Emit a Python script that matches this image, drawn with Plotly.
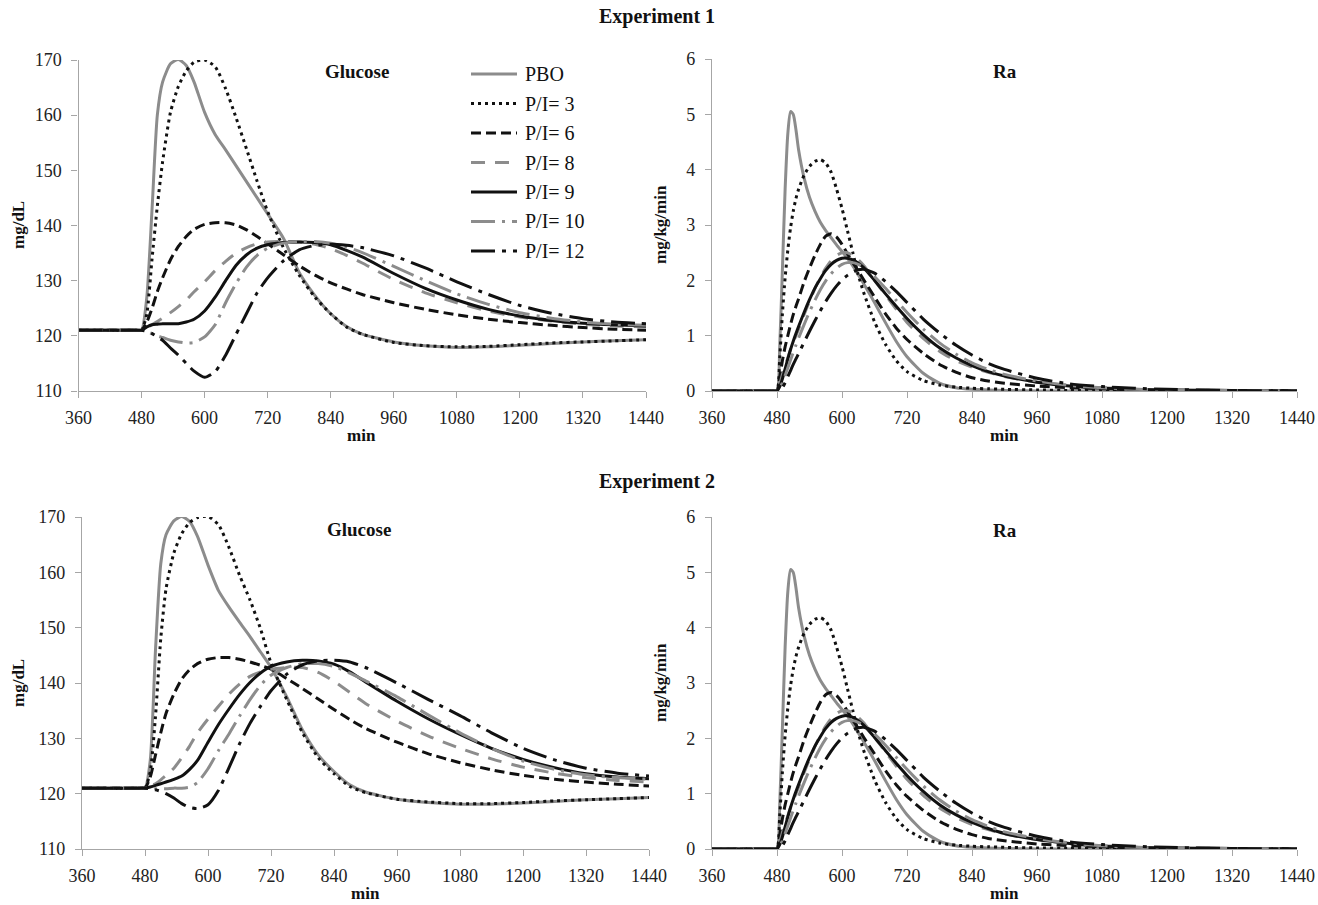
import plotly.graph_objects as go

W, H = 1318, 905
FONT = "'Liberation Serif', 'Times New Roman', Times, serif"
GRAY = "#8c8c8c"
BLACK = "#111111"
AXIS = "#a6a6a6"

SERIES = ["PBO", "P/I= 3", "P/I= 6", "P/I= 8", "P/I= 9", "P/I= 10", "P/I= 12"]

# ---------------- Glucose time grid (min) ----------------
T_GLU = [360, 470, 480,
         490, 500, 510, 520,
         535, 550, 565, 580,
         600, 620, 640, 660, 680, 700, 720,
         750, 780, 810, 840, 870, 900,
         960, 1020, 1080, 1140, 1200, 1260, 1320, 1380, 1440]

# Experiment 1 glucose (mg/dL)
glu1_pbo = [121, 121, 121, 127, 143, 160, 166, 169.3, 170.1, 169, 166,
            160.5, 156.5, 153.7, 150.8, 147.9, 145, 142.1,
            137.7, 131.5, 127.3, 124, 121.7, 120.3,
            118.9, 118.2, 117.9, 118, 118.3, 118.6, 118.9, 119.1, 119.3]
glu1_p3 = [121, 121, 121, 124, 134, 143.5, 151.5, 160.5, 165.2, 168, 169.6,
           170, 168.8, 164.8, 159.5, 153.8, 148, 142.5,
           136, 131, 127, 124, 121.6, 120.3,
           118.8, 118.2, 118, 118.1, 118.4, 118.7, 118.9, 119.1, 119.3]
glu1_p6 = [121, 121, 121, 122.5, 125, 128, 130.5, 133.8, 136.2, 138, 139.3,
           140.2, 140.5, 140.5, 140.1, 139.2, 138, 136.7,
           134.7, 132.7, 131, 129.6, 128.5, 127.5,
           126, 124.8, 123.8, 123, 122.4, 121.9, 121.5, 121.2, 121]
glu1_p8 = [121, 121, 121, 121.5, 122, 122.6, 123.2, 124.2, 125.3, 126.5, 128,
           129.8, 131.8, 133.5, 135, 136, 136.7, 137,
           137.1, 137, 136.6, 135.8, 134.6, 133.2,
           130.2, 127.8, 126, 124.5, 123.4, 122.7, 122.1, 121.8, 121.6]
glu1_p9 = [121, 121, 121, 121.6, 122, 122.1, 122.2, 122.2, 122.2, 122.5, 123,
           124.5, 127, 130, 132.8, 134.7, 135.9, 136.5,
           136.9, 137, 136.9, 136.5, 135.5, 134.3,
           131.3, 128.6, 126.5, 124.8, 123.6, 122.8, 122.3, 122, 121.8]
glu1_p10 = [121, 121, 121, 120.8, 120.4, 120, 119.7, 119.2, 118.9, 118.7, 118.8,
            119.8, 122, 126, 129.5, 132.5, 134.6, 135.9,
            136.8, 137.1, 137.1, 136.8, 136.1, 135.1,
            132.6, 130, 127.6, 125.7, 124.2, 123.2, 122.5, 122.1, 121.9]
glu1_p12 = [121, 121, 121, 120.8, 120.4, 119.8, 119.2, 117.8, 116.5, 115, 113.6,
            112.5, 113.5, 116.5, 120.3, 124.1, 127.8, 130.5,
            133.6, 135.6, 136.4, 136.6, 136.4, 136,
            134.5, 132.3, 129.8, 127.5, 125.5, 124.1, 123.1, 122.5, 122.2]

# Experiment 2 glucose (mg/dL)
glu2_pbo = [121, 121, 121, 126, 146, 161.5, 166.8, 169.3, 170.1, 169.2, 166.5,
            161.3, 156.7, 153.7, 151, 148.4, 145.6, 142.8,
            137.5, 131.5, 127, 124, 121.6, 120.3,
            119, 118.4, 118.1, 118.1, 118.3, 118.6, 118.9, 119.1, 119.3]
glu2_p3 = [121, 121, 121, 124, 134, 148, 157, 163.5, 167, 169, 169.9,
           170.1, 168.6, 164.5, 159.5, 155, 149.8, 143.6,
           137, 131, 126.5, 123.6, 121.3, 120.2,
           119, 118.5, 118.2, 118.2, 118.4, 118.7, 118.9, 119.1, 119.3]
glu2_p6 = [121, 121, 121, 123, 127, 131, 134.5, 138, 140.7, 142.4, 143.5,
           144.3, 144.6, 144.6, 144.3, 143.8, 143.2, 142.5,
           140.8, 139, 137.1, 135.2, 133.4, 131.8,
           129.3, 127.2, 125.6, 124.3, 123.3, 122.6, 122.1, 121.7, 121.4]
glu2_p8 = [121, 121, 121, 121.4, 121.8, 122.5, 123.3, 124.6, 126.5, 128.6, 131,
           133.5, 135.8, 138, 139.8, 141.2, 142, 142.5,
           142.8, 142.8, 141.9, 140.3, 138.3, 136.3,
           133.1, 130.4, 128.2, 126.3, 124.8, 123.7, 122.9, 122.4, 122.1]
glu2_p9 = [121, 121, 121, 121.2, 121.5, 121.8, 122.1, 122.6, 123.2, 124.4, 126,
           129.3, 132.5, 135.3, 137.9, 140.1, 141.8, 143,
           143.8, 144.1, 144, 143.4, 142, 140.2,
           136.7, 133.5, 130.7, 128.2, 126.2, 124.7, 123.6, 123, 122.7]
glu2_p10 = [121, 121, 121, 120.9, 120.9, 120.9, 120.9, 121, 121, 121.2, 122,
            124.5, 127.8, 130.8, 134, 137, 139.6, 141.4,
            142.8, 143.5, 143.5, 143, 141.8, 140.4,
            137.5, 134.2, 131, 128.2, 125.9, 124.4, 123.4, 122.9, 122.6]
glu2_p12 = [121, 121, 121, 120.9, 120.7, 120.4, 120, 119.2, 118.2, 117.5, 117.3,
            118, 120.6, 124.7, 129, 132.7, 135.8, 138.6,
            141.6, 143.3, 144, 144.1, 143.8, 142.8,
            140, 137, 134.1, 131, 128.2, 126.1, 124.6, 123.7, 123.2]

# ---------------- Ra time grid (min) ----------------
T_RA = [360, 420, 470, 480,
        485, 490, 495, 500, 505, 510, 515, 520,
        530, 540, 550, 560, 570, 580, 590, 600, 610, 620, 630, 640,
        660, 680, 700, 720, 750, 780, 810, 840, 870, 900,
        960, 1020, 1080, 1140, 1200, 1320, 1440]

# Experiment 1 Ra (mg/kg/min)
ra1_pbo = [0, 0, 0, 0, 0.8, 2.2, 3.65, 4.65, 5.05, 5.0, 4.72, 4.35,
           3.85, 3.5, 3.25, 3.05, 2.9, 2.77, 2.64, 2.52, 2.4, 2.26, 2.1, 1.94,
           1.6, 1.24, 0.9, 0.62, 0.32, 0.14, 0.06, 0.03, 0.02, 0.01,
           0, 0, 0, 0, 0, 0, 0]
ra1_p3 = [0, 0, 0, 0, 0.6, 1.4, 2.05, 2.55, 2.95, 3.25, 3.48, 3.65,
          3.9, 4.06, 4.15, 4.18, 4.12, 3.95, 3.65, 3.3, 2.9, 2.5, 2.1, 1.78,
          1.25, 0.85, 0.55, 0.35, 0.19, 0.11, 0.07, 0.05, 0.04, 0.03,
          0.02, 0.01, 0.01, 0, 0, 0, 0]
ra1_p6 = [0, 0, 0, 0, 0.25, 0.55, 0.8, 1.0, 1.2, 1.38, 1.53, 1.67,
          1.97, 2.22, 2.45, 2.65, 2.8, 2.84, 2.78, 2.65, 2.48, 2.32, 2.17, 2.01,
          1.7, 1.4, 1.14, 0.93, 0.68, 0.48, 0.34, 0.24, 0.18, 0.14,
          0.09, 0.06, 0.04, 0.02, 0.01, 0.01, 0]
ra1_p8 = [0, 0, 0, 0, 0.12, 0.3, 0.45, 0.6, 0.75, 0.88, 1.0, 1.12,
          1.38, 1.62, 1.85, 2.05, 2.22, 2.36, 2.45, 2.5, 2.5, 2.45, 2.37, 2.27,
          2.0, 1.74, 1.48, 1.24, 0.95, 0.72, 0.55, 0.43, 0.34, 0.26,
          0.16, 0.1, 0.06, 0.03, 0.02, 0.01, 0]
ra1_p9 = [0, 0, 0, 0, 0.08, 0.22, 0.4, 0.58, 0.75, 0.9, 1.04, 1.17,
          1.42, 1.65, 1.86, 2.03, 2.18, 2.29, 2.36, 2.4, 2.4, 2.37, 2.31, 2.23,
          2.0, 1.76, 1.53, 1.31, 1.02, 0.78, 0.6, 0.46, 0.35, 0.27,
          0.16, 0.09, 0.05, 0.03, 0.02, 0.01, 0]
ra1_p10 = [0, 0, 0, 0, 0.05, 0.15, 0.28, 0.42, 0.56, 0.7, 0.83, 0.96,
           1.2, 1.43, 1.64, 1.83, 1.99, 2.12, 2.22, 2.29, 2.32, 2.32, 2.29, 2.24,
           2.07, 1.86, 1.64, 1.42, 1.12, 0.87, 0.67, 0.51, 0.39, 0.3,
           0.18, 0.1, 0.06, 0.03, 0.02, 0.01, 0]
ra1_p12 = [0, 0, 0, 0, 0.02, 0.06, 0.15, 0.26, 0.37, 0.48, 0.58, 0.68,
           0.88, 1.08, 1.27, 1.45, 1.62, 1.77, 1.9, 2.01, 2.09, 2.15, 2.19, 2.2,
           2.13, 1.98, 1.8, 1.6, 1.3, 1.05, 0.83, 0.65, 0.5, 0.39,
           0.23, 0.13, 0.08, 0.05, 0.03, 0.01, 0]

# Experiment 2 Ra (mg/kg/min)
ra2_pbo = [0, 0, 0, 0, 0.8, 2.2, 3.65, 4.65, 5.05, 5.0, 4.72, 4.35,
           3.85, 3.5, 3.25, 3.05, 2.9, 2.77, 2.64, 2.52, 2.4, 2.26, 2.1, 1.94,
           1.6, 1.24, 0.9, 0.62, 0.32, 0.14, 0.06, 0.03, 0.02, 0.01,
           0, 0, 0, 0, 0, 0, 0]
ra2_p3 = [0, 0, 0, 0, 0.6, 1.4, 2.05, 2.55, 2.95, 3.25, 3.48, 3.65,
          3.9, 4.06, 4.15, 4.18, 4.12, 3.95, 3.65, 3.3, 2.9, 2.5, 2.1, 1.78,
          1.25, 0.85, 0.55, 0.35, 0.19, 0.11, 0.07, 0.05, 0.04, 0.03,
          0.02, 0.01, 0.01, 0, 0, 0, 0]
ra2_p6 = [0, 0, 0, 0, 0.25, 0.55, 0.8, 1.0, 1.2, 1.38, 1.53, 1.67,
          1.97, 2.22, 2.45, 2.65, 2.79, 2.83, 2.77, 2.65, 2.49, 2.33, 2.18, 2.02,
          1.72, 1.42, 1.16, 0.95, 0.7, 0.5, 0.36, 0.26, 0.19, 0.15,
          0.09, 0.06, 0.04, 0.02, 0.01, 0.01, 0]
ra2_p8 = [0, 0, 0, 0, 0.12, 0.3, 0.45, 0.6, 0.75, 0.88, 1.0, 1.12,
          1.38, 1.62, 1.85, 2.05, 2.22, 2.36, 2.45, 2.5, 2.5, 2.46, 2.38, 2.28,
          2.02, 1.76, 1.5, 1.26, 0.97, 0.74, 0.57, 0.44, 0.35, 0.27,
          0.17, 0.1, 0.06, 0.03, 0.02, 0.01, 0]
ra2_p9 = [0, 0, 0, 0, 0.08, 0.22, 0.4, 0.58, 0.75, 0.9, 1.04, 1.17,
          1.42, 1.65, 1.86, 2.03, 2.18, 2.29, 2.36, 2.4, 2.41, 2.38, 2.32, 2.24,
          2.02, 1.78, 1.55, 1.33, 1.04, 0.8, 0.62, 0.48, 0.37, 0.28,
          0.17, 0.1, 0.05, 0.03, 0.02, 0.01, 0]
ra2_p10 = [0, 0, 0, 0, 0.05, 0.15, 0.28, 0.42, 0.56, 0.7, 0.83, 0.96,
           1.2, 1.43, 1.64, 1.83, 1.99, 2.12, 2.22, 2.29, 2.32, 2.32, 2.29, 2.24,
           2.08, 1.88, 1.66, 1.44, 1.14, 0.89, 0.69, 0.53, 0.41, 0.31,
           0.19, 0.11, 0.06, 0.03, 0.02, 0.01, 0]
ra2_p12 = [0, 0, 0, 0, 0.02, 0.06, 0.15, 0.26, 0.37, 0.48, 0.58, 0.68,
           0.88, 1.08, 1.27, 1.45, 1.62, 1.77, 1.9, 2.01, 2.09, 2.15, 2.19, 2.2,
           2.13, 1.98, 1.8, 1.6, 1.3, 1.05, 0.83, 0.65, 0.5, 0.39,
           0.23, 0.13, 0.08, 0.05, 0.03, 0.01, 0]

X_TICKS = [360, 480, 600, 720, 840, 960, 1080, 1200, 1320, 1440]
GLU_TICKS = [110, 120, 130, 140, 150, 160, 170]
RA_TICKS = [0, 1, 2, 3, 4, 5, 6]

STYLE = {
    "PBO":     (GRAY, "solid"),
    "P/I= 3":  (BLACK, "3px,4px"),
    "P/I= 6":  (BLACK, "10px,5px"),
    "P/I= 8":  (GRAY, "14px,10px"),
    "P/I= 9":  (BLACK, "solid"),
    "P/I= 10": (GRAY, "24px,7px,3px,7px"),
    "P/I= 12": (BLACK, "24px,7px,4px,7px"),
}

panels = [
    ("x", "y", T_GLU, [glu1_pbo, glu1_p3, glu1_p6, glu1_p8, glu1_p9, glu1_p10, glu1_p12]),
    ("x2", "y2", T_RA, [ra1_pbo, ra1_p3, ra1_p6, ra1_p8, ra1_p9, ra1_p10, ra1_p12]),
    ("x3", "y3", T_GLU, [glu2_pbo, glu2_p3, glu2_p6, glu2_p8, glu2_p9, glu2_p10, glu2_p12]),
    ("x4", "y4", T_RA, [ra2_pbo, ra2_p3, ra2_p6, ra2_p8, ra2_p9, ra2_p10, ra2_p12]),
]


def px(x):
    return x / W


def py(y):
    return 1 - y / H


fig = go.Figure()
for xa, ya, tt, vals in panels:
    for name, v in zip(SERIES, vals):
        col, dash = STYLE[name]
        fig.add_trace(go.Scatter(
            x=tt, y=v, mode="lines", name=name, xaxis=xa, yaxis=ya,
            line=dict(color=col, width=3, dash=dash, shape="spline", smoothing=0.6),
            showlegend=False, hoverinfo="skip"))

tickfont = dict(family=FONT, size=18, color="#222222")
common = dict(showline=True, linecolor=AXIS, linewidth=1.3, ticks="outside", ticklen=6,
              tickcolor=AXIS, tickwidth=1.3, showgrid=False, zeroline=False,
              tickfont=tickfont, automargin=False, fixedrange=True)

dom = {
    "TL": ([px(78.5), px(646)], [py(391), py(60)]),
    "TR": ([px(712), px(1297)], [py(391), py(59)]),
    "BL": ([px(82), px(649)], [py(849), py(517)]),
    "BR": ([px(712), px(1297)], [py(849), py(517)]),
}

layout_axes = {}
for i, (key, yr, yt) in enumerate([("TL", [110, 170], GLU_TICKS), ("TR", [0, 6], RA_TICKS),
                                    ("BL", [110, 170], GLU_TICKS), ("BR", [0, 6], RA_TICKS)]):
    suf = "" if i == 0 else str(i + 1)
    xd, yd = dom[key]
    layout_axes["xaxis" + suf] = dict(common, domain=xd, range=[360, 1440], tickvals=X_TICKS,
                                      anchor="y" + suf, ticklabelstandoff=4)
    layout_axes["yaxis" + suf] = dict(common, domain=yd, range=yr, tickvals=yt,
                                      anchor="x" + suf, ticklabelstandoff=6)

fig.update_layout(**layout_axes)

ann = []


def text(x, y, s, size, bold=True, angle=0, xanchor="center"):
    ann.append(dict(x=px(x), y=py(y), xref="paper", yref="paper", text=("<b>%s</b>" % s) if bold else s,
                    showarrow=False, textangle=angle, xanchor=xanchor, yanchor="middle",
                    font=dict(family=FONT, size=size, color="#111111")))


text(657, 17, "Experiment 1", 20)
text(657, 481, "Experiment 2", 20)
text(357, 71, "Glucose", 19)
text(1005, 71, "Ra", 19)
text(359, 529, "Glucose", 19)
text(1005, 530, "Ra", 19)
text(18, 225, "mg/dL", 17, angle=-90)
text(660, 225, "mg/kg/min", 17, angle=-90)
text(18, 683, "mg/dL", 17, angle=-90)
text(660, 683, "mg/kg/min", 17, angle=-90)
text(362, 435, "min", 17)
text(1004, 435, "min", 17)
text(365, 893, "min", 17)
text(1004, 893, "min", 17)

shapes = []
for i, name in enumerate(SERIES):
    yy = 74 + 29.5 * i
    col, dash = STYLE[name]
    shapes.append(dict(type="line", xref="paper", yref="paper", x0=px(471), x1=px(517),
                       y0=py(yy), y1=py(yy), line=dict(color=col, width=3, dash=dash)))
    text(523, yy, name, 20, bold=False, xanchor="left")

fig.update_layout(
    width=W, height=H, margin=dict(l=0, r=0, t=0, b=0),
    paper_bgcolor="white", plot_bgcolor="white",
    annotations=ann, shapes=shapes, showlegend=False,
    font=dict(family=FONT),
)

fig.write_html("out.html", config={"displayModeBar": False})
